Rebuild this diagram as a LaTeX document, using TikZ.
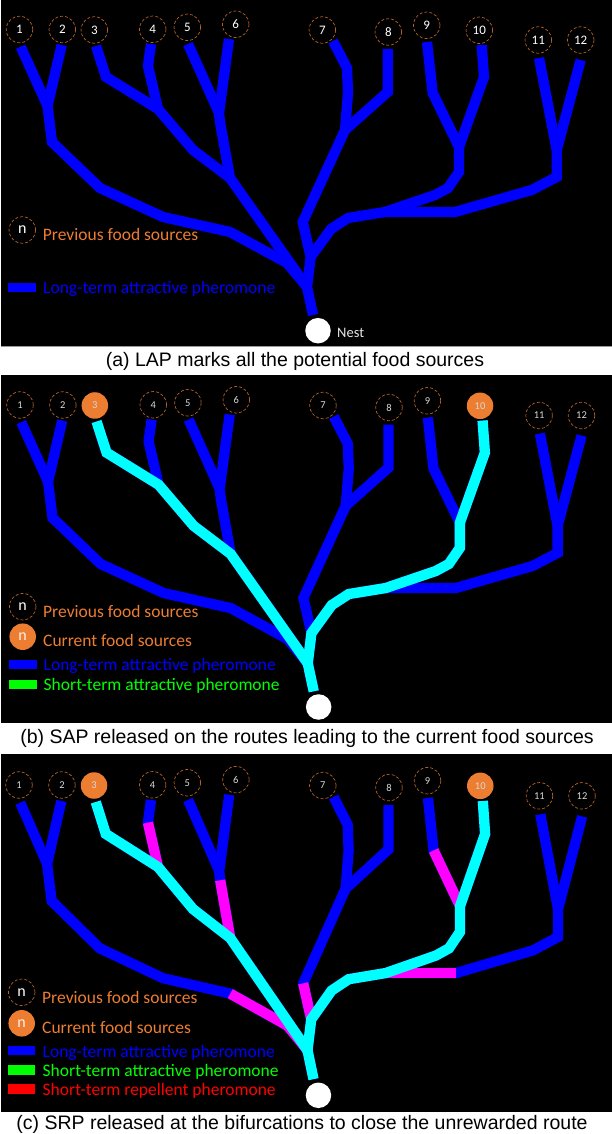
\documentclass[tikz,border=0pt]{standalone}
\usepackage{fontspec}
\setmainfont{Liberation Sans}
\newfontfamily\slidefont{Carlito}
\definecolor{foodorange}{HTML}{ED7D31}
\definecolor{ringbrown}{HTML}{B5622A}
\tikzset{
  panel/.style={fill=black,draw=none},
  route/.style={line width=10.3pt,line join=miter,miter limit=4,line cap=butt},
  lap/.style={route,draw={rgb,255:red,0;green,0;blue,255}},
  sap/.style={route,draw={rgb,255:red,0;green,255;blue,255}},
  srp/.style={route,draw={rgb,255:red,255;green,0;blue,255}},
  numfont/.style={font=\slidefont\fontsize{13}{13}\selectfont},
  prev/.style={circle,draw=ringbrown,densely dashed,line width=0.7pt,minimum size=26.5pt,inner sep=0pt,text=white,numfont},
  cur/.style={circle,fill=foodorange,draw=none,minimum size=26.5pt,inner sep=0pt,text=white!90!foodorange,numfont},
  s3/.style={prev},
  s10/.style={prev},
  nest/.style={circle,fill=white,draw=none,minimum size=25.5pt,inner sep=0pt},
  legend/.style={anchor=west,inner sep=0pt,yshift=-0.8pt,font=\slidefont\fontsize{17.5}{18}\selectfont},
  bar/.style={draw=none},
  caption/.style={inner sep=0pt,text=black,yshift=-0.5pt,font=\fontsize{19.5}{21}\selectfont},
  keyfont/.style={font=\slidefont\fontsize{16}{16}\selectfont},
}
\newcommand{\treegeom}{%
  \coordinate (t1) at (20.7,46.7);
  \coordinate (t2) at (61.7,45);
  \coordinate (y12) at (47.5,106);
  \coordinate (a1) at (52,142);
  \coordinate (a2) at (100,188);
  \coordinate (a3) at (163,217);
  \coordinate (a4) at (230,232);
  \coordinate (a5) at (287,263);
  \coordinate (j) at (307,287);
  \coordinate (t3) at (96,46);
  \coordinate (b1) at (106,77);
  \coordinate (y34) at (158,109);
  \coordinate (t4) at (151,44);
  \coordinate (b2) at (148,66);
  \coordinate (b3) at (193,150);
  \coordinate (y36) at (230,178);
  \coordinate (t5) at (188,44);
  \coordinate (y56) at (219,113);
  \coordinate (t6) at (229,39);
  \coordinate (c1) at (220,122);
  \coordinate (root) at (313,315);
  \coordinate (y7) at (310.7,257);
  \coordinate (t7) at (333,41);
  \coordinate (d1) at (347,68);
  \coordinate (d2) at (348,93);
  \coordinate (y78) at (345,130);
  \coordinate (d3) at (302.7,222);
  \coordinate (t8) at (387.7,49);
  \coordinate (d4) at (387.7,92);
  \coordinate (t9) at (427,42);
  \coordinate (e1) at (432.7,93);
  \coordinate (y910) at (459,147);
  \coordinate (t10) at (481.7,45);
  \coordinate (e2) at (484,77);
  \coordinate (e3) at (459,172);
  \coordinate (e4) at (448,188);
  \coordinate (e5) at (435,195);
  \coordinate (e6) at (385,212);
  \coordinate (e7) at (348,218);
  \coordinate (e8) at (331,229);
  \coordinate (t11) at (539,58);
  \coordinate (t12) at (580.7,60);
  \coordinate (y1112) at (556.7,150);
  \coordinate (f1) at (556.7,177);
  \coordinate (f2) at (531.7,190);
  \coordinate (f3) at (455,212);
}
\newcommand{\lapall}{%
  \draw[lap] (t1) -- (y12);
  \draw[lap] (t2) -- (y12) -- (a1) -- (a2) -- (a3) -- (a4) -- (a5) -- (j);
  \draw[lap] (t3) -- (b1) -- (y34) -- (b3) -- (y36) -- (j);
  \draw[lap] (t4) -- (b2) -- (y34);
  \draw[lap] (t5) -- (y56);
  \draw[lap] (t6) -- (y56) -- (c1) -- (y36);
  \draw[lap] (t7) -- (d1) -- (d2) -- (y78) -- (d3) -- (y7);
  \draw[lap] (t8) -- (d4) -- (y78);
  \draw[lap] (t9) -- (e1) -- (y910);
  \draw[lap] (t10) -- (e2) -- (y910) -- (e3) -- (e4) -- (e5) -- (e6) -- (e7) -- (e8) -- (y7) -- (j) -- (root);
  \draw[lap] (t11) -- (y1112);
  \draw[lap] (t12) -- (y1112) -- (f1) -- (f2) -- (f3) -- (e6);
}
\newcommand{\sapall}{%
  \draw[sap] (t3) -- (b1) -- (y34) -- (b3) -- (y36) -- (j);
  \draw[sap] (t10) -- (e2) -- (y910) -- (e3) -- (e4) -- (e5) -- (e6) -- (e7) -- (e8) -- (y7) -- (j) -- (root);
}
\newcommand{\foodsources}{%
  \node[prev] (s1) at (19.5,29.5) {1};
  \node[prev] (s2) at (62.3,29.5) {2};
  \node[s3] (s3) at (94.3,30) {3};
  \node[prev] (s4) at (152.7,29.3) {4};
  \node[prev] (s5) at (187.3,27.3) {5};
  \node[prev] (s6) at (235.7,24.3) {6};
  \node[prev] (s7) at (322.3,30) {7};
  \node[prev] (s8) at (388.3,32) {8};
  \node[prev] (s9) at (426.7,25.3) {9};
  \node[s10] (s10) at (479.3,30.3) {10};
  \node[prev] (s11) at (538.3,40) {11};
  \node[prev] (s12) at (580.7,40) {12};
  \node[nest] (nestnode) at (318,330.7) {};
}
\begin{document}
\begin{tikzpicture}[x=1pt,y=-1pt]
\useasboundingbox (0,0) rectangle (612,1134);
\fill[white] (0,0) rectangle (612,1134);
% panels
\fill[panel] (1,0) rectangle (612,346);
\fill[panel] (1,375) rectangle (612,723);
\fill[panel] (1,754) rectangle (612,1112);
\draw[black!40,line width=0.6pt] (1,346.3) -- (612,346.3);
% panel a
\begin{scope}[name prefix=pa-]
  \treegeom
  \lapall
  \foodsources
  \node[anchor=west,inner sep=0pt,text=white!90!black,font=\slidefont\fontsize{14.5}{15}\selectfont] (nestlabel) at (337,332.7) {Nest};
  \node[prev,keyfont] (k1) at (22.3,230) {n};
  \node[legend,text=foodorange] (k1t) at (42.7,234) {Previous food sources};
  \fill[bar,blue] (8.3,282.7) rectangle (36,292);
  \node[legend,text=blue] (k2t) at (43,288) {Long-term attractive pheromone};
\end{scope}
\node[caption] (capa) at (295,361) {(a) LAP marks all the potential food sources};
% panel b
\begin{scope}[name prefix=pb-,shift={(0.5,375.4)},xscale=1.0005,yscale=1.0027,
    s3/.style={cur},s10/.style={cur},numfont/.style={font=\slidefont\fontsize{10.5}{10.5}\selectfont,text=white!85!black}]
  \treegeom
  \lapall
  \sapall
  \foodsources
\end{scope}
\node[prev,keyfont] (kb1) at (22.7,606.7) {n};
\node[legend,text=foodorange] (kb1t) at (43,610.7) {Previous food sources};
\node[cur,keyfont] (kb2) at (22.7,636.7) {n};
\node[legend,text=foodorange] (kb2t) at (43,640) {Current food sources};
\fill[bar,blue] (9.3,660) rectangle (36.7,669);
\node[legend,text=blue] (kb3t) at (43.5,665) {Long-term attractive pheromone};
\fill[bar,green] (9.3,680) rectangle (36.7,689);
\node[legend,text=green] (kb4t) at (43.5,685) {Short-term attractive pheromone};
\node[caption] (capb) at (307,737.7) {(b) SAP released on the routes leading to the current food sources};
% panel c
\begin{scope}[name prefix=pc-,shift={(-0.56,754.6)},xscale=1.0032,yscale=1.0302,
    s3/.style={cur},s10/.style={cur},numfont/.style={font=\slidefont\fontsize{10.5}{10.5}\selectfont,text=white!85!black}]
  \treegeom
  \lapall
  \draw[srp] (b2) -- (y34);
  \draw[srp] (c1) -- (y36);
  \draw[srp] (a4) -- (a5) -- (j);
  \draw[srp] (e1) -- (y910);
  \draw[srp] (d3) -- (y7);
  \draw[srp] (f3) -- (e6);
  \sapall
  \foodsources
\end{scope}
\node[prev,keyfont] (kc1) at (21.7,992.3) {n};
\node[legend,text=foodorange] (kc1t) at (42,996.7) {Previous food sources};
\node[cur,keyfont] (kc2) at (21.7,1023.3) {n};
\node[legend,text=foodorange] (kc2t) at (42,1026.7) {Current food sources};
\fill[bar,blue] (8,1046) rectangle (35.3,1055.3);
\node[legend,text=blue] (kc3t) at (42.5,1051.7) {Long-term attractive pheromone};
\fill[bar,green] (8,1065.3) rectangle (35.3,1075.3);
\node[legend,text=green] (kc4t) at (42.5,1071) {Short-term attractive pheromone};
\fill[bar,red] (8,1084.3) rectangle (35.3,1094.3);
\node[legend,text=red] (kc5t) at (42.5,1090) {Short-term repellent pheromone};
\node[caption] (capc) at (302,1124) {(c) SRP released at the bifurcations to close the unrewarded route};
\end{tikzpicture}
\end{document}
